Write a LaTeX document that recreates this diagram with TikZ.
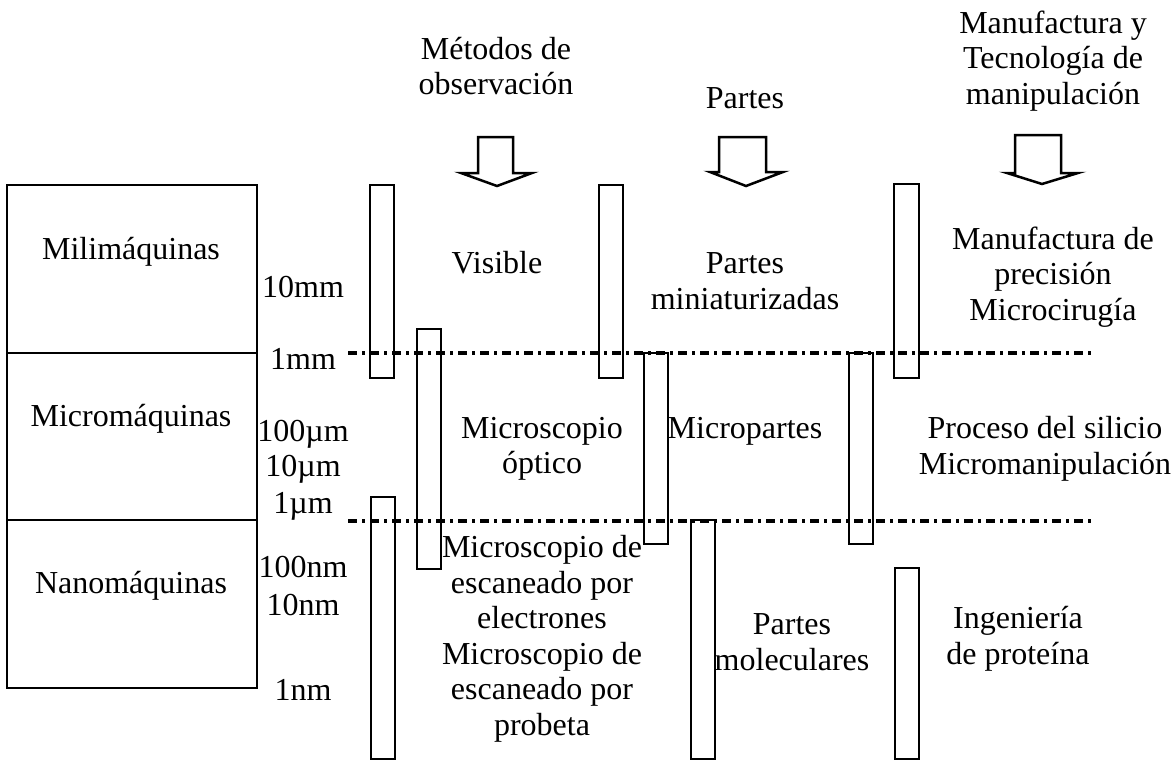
\documentclass[tikz,border=0pt]{standalone}
\usepackage{fontspec}
\setmainfont{Liberation Serif}
\usepackage{tikz}
\tikzset{
	labelstyle/.style={inner sep=0pt,align=center},
	barstyle/.style={draw=black,line width=2.5pt},
	boxstyle/.style={draw=black,line width=2pt},
	arrowstyle/.style={draw=black,fill=white,line width=2.5pt,line join=miter},
	levelstyle/.style={draw=black,line width=3.5pt,dash pattern=on 9pt off 5pt on 3pt off 5pt}
}

\begin{document}
\begin{tikzpicture}[x=1pt,y=-1pt]
		\fontsize{32}{35.5}\selectfont
		\useasboundingbox (0,0) rectangle (1175,761);
		% size classes
		\draw[boxstyle] (7,185) rectangle (257,688);
		\draw[boxstyle] (7,353)--(257,353);
		\draw[boxstyle] (7,520)--(257,520);
		\node[labelstyle] (mili) at (131,252) {Milim\'aquinas};
		\node[labelstyle] (micro) at (131,419) {Microm\'aquinas};
		\node[labelstyle] (nano) at (131,586) {Nanom\'aquinas};
		% scale
		\node[labelstyle] (s10mm) at (303,287) {10mm};
		\node[labelstyle] (s1mm) at (303,359) {1mm};
		\node[labelstyle] (s100um) at (303,434) {100µm};
		\node[labelstyle] (s10um) at (303,469) {10µm};
		\node[labelstyle] (s1um) at (303,506) {1µm};
		\node[labelstyle] (s100nm) at (303,567) {100nm};
		\node[labelstyle] (s10nm) at (303,605) {10nm};
		\node[labelstyle] (s1nm) at (303,690) {1nm};
		\draw[levelstyle] (348,353)--(1095,353);
		\draw[levelstyle] (348,521)--(1095,521);
		% headings
		\node[labelstyle] (obs) at (496,66) {M\'etodos de\\observaci\'on};
		\node[labelstyle] (par) at (745,98) {Partes};
		\node[labelstyle] (man) at (1053,61) {Manufactura y\\Tecnolog\'ia de\\manipulaci\'on};
		\draw[arrowstyle] (478,137)--(513,137)--(513,173)--(532,173)--(497,186)--(461,173)--(478,173)--cycle;
		\draw[arrowstyle] (719,137)--(766,137)--(766,172)--(783,172)--(746,186)--(710,172)--(719,172)--cycle;
		\draw[arrowstyle] (1015,135)--(1061,135)--(1061,173)--(1078,173)--(1042,184)--(1007,173)--(1015,173)--cycle;
		% bars
		\draw[barstyle] (370,185) rectangle (394,378);
		\draw[barstyle] (417,329) rectangle (441,569);
		\draw[barstyle] (371,497) rectangle (395,759);
		\draw[barstyle] (599,185) rectangle (623,378);
		\draw[barstyle] (644,353) rectangle (668,544);
		\draw[barstyle] (691,520) rectangle (715,759);
		\draw[barstyle] (894,184) rectangle (919,378);
		\draw[barstyle] (849,353) rectangle (873,544);
		\draw[barstyle] (895,568) rectangle (919,759);
		% contents
		\node[labelstyle] (visible) at (497,263) {Visible};
		\node[labelstyle] (mini) at (745,281) {Partes\\miniaturizadas};
		\node[labelstyle] (prec) at (1053,277) {Manufactura de\\precisi\'on\\Microcirug\'ia};
		\node[labelstyle] (optico) at (542,449) {Microscopio\\\'optico};
		\node[labelstyle] (micropartes) at (745,431) {Micropartes};
		\node[labelstyle] (silicio) at (1045,449) {Proceso del silicio\\Micromanipulaci\'on};
		\node[labelstyle] (escaneo) at (542,639) {Microscopio de\\escaneado por\\electrones\\Microscopio de\\escaneado por\\probeta};
		\node[labelstyle] (molec) at (792,642) {Partes\\moleculares};
		\node[labelstyle] (prot) at (1018,639) {Ingenier\'ia\\de prote\'ina};
\end{tikzpicture}
\end{document}
